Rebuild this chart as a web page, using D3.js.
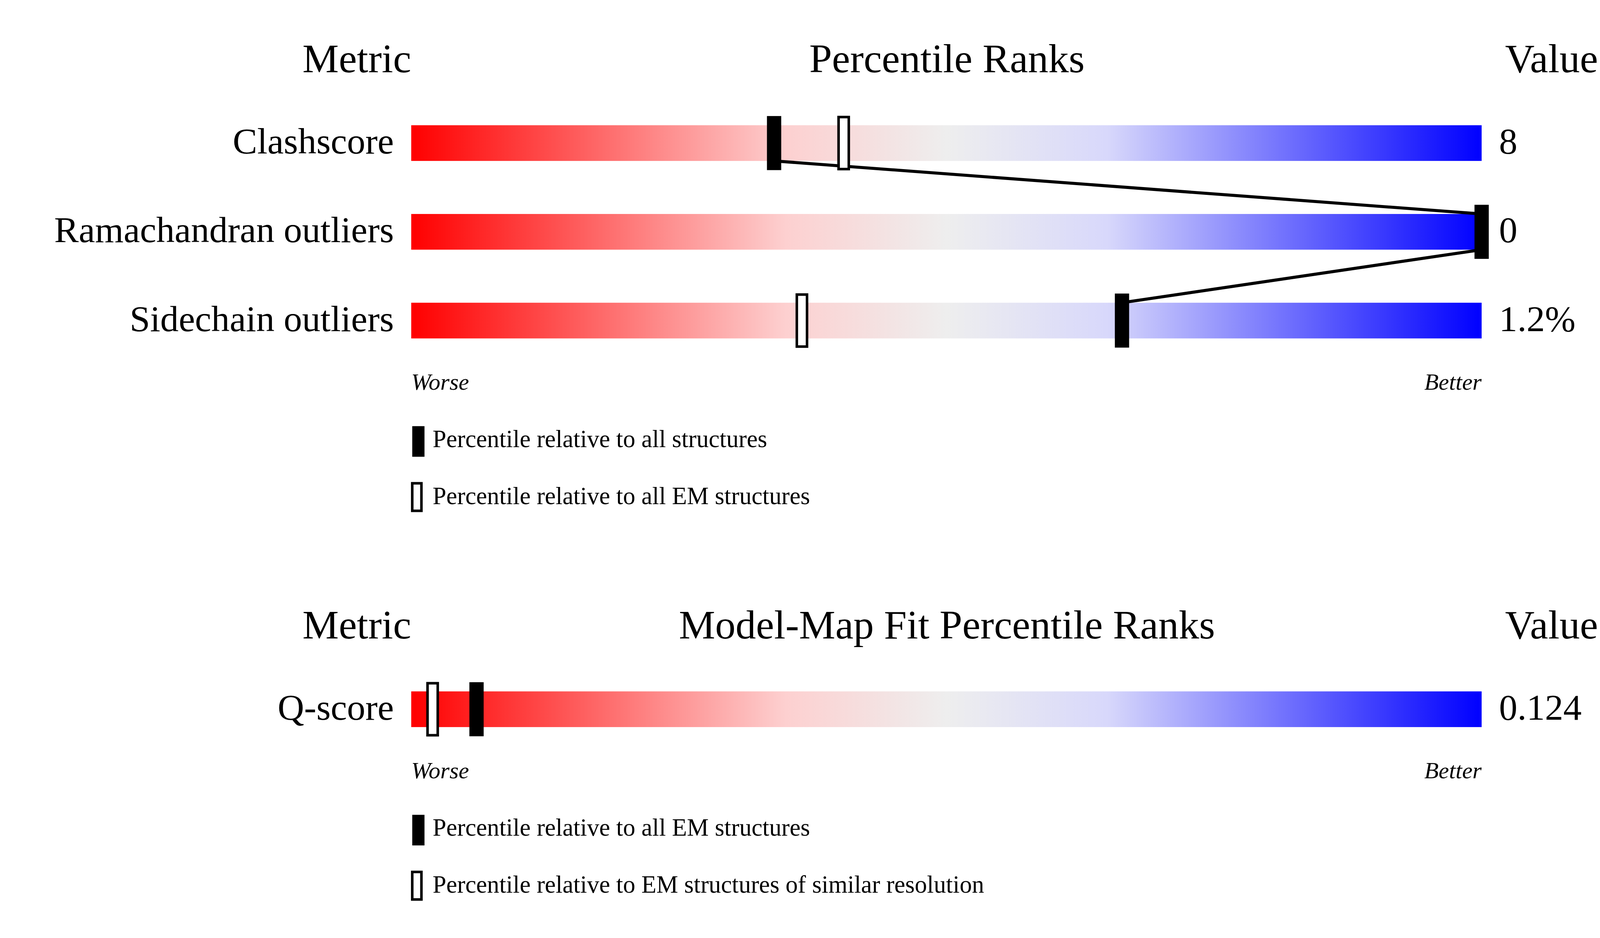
<!DOCTYPE html>
<html><head><meta charset="utf-8">
<script src="https://cdn.jsdelivr.net/npm/d3@7"></script>
<style>html,body{margin:0;padding:0;background:#fff;overflow:hidden}svg{display:block;width:100vw;height:100vh}</style>
</head><body>
<script>
const metrics1 = ["Clashscore","Ramachandran outliers","Sidechain outliers"];
const values1 = ["8","0","1.2%"];
const pctAll1 = [33.9, 100, 66.4];
const pctEM1 = [40.4, null, 36.5];
const metrics2 = ["Q-score"];
const values2 = ["0.124"];
const pctAll2 = [6.1];
const pctEM2 = [2.0];
const legend1 = ["Percentile relative to all structures","Percentile relative to all EM structures"];
const legend2 = ["Percentile relative to all EM structures","Percentile relative to EM structures of similar resolution"];

const svg=d3.select("body").append("svg")
  .attr("viewBox","0 0 1568 840").attr("preserveAspectRatio","xMidYMid meet");
const font="Liberation Serif, Times New Roman, serif";
const defs=svg.append("defs");
const g=defs.append("linearGradient").attr("id","grad");
[[0,"#ff0000"],[0.35,"#fdd0d0"],[0.5,"#eeeeee"],[0.65,"#d8d8fb"],[1,"#0000ff"]]
  .forEach(([o,c])=>g.append("stop").attr("offset",o).attr("stop-color",c));
const x=d3.scaleLinear().domain([0,100]).range([403,1452]);

function panel(top,title,metrics,values,pAll,pEM,legend){
  const bh=35;
  const rowY=i=>top+63+87*i;
  const t=(txt,xx,yy,anchor,size,style)=>svg.append("text").text(txt).attr("x",xx).attr("y",yy)
    .attr("text-anchor",anchor).attr("font-family",font).attr("font-size",size)
    .attr("font-style",style||"normal").attr("dominant-baseline","middle");
  t("Metric",403,top+2,"end",40);
  t(title,928,top+2,"middle",40);
  t("Value",1566,top+2,"end",40);
  metrics.forEach((m,i)=>{
    const yy=rowY(i);
    svg.append("rect").attr("x",x(0)).attr("y",yy).attr("width",x(100)-x(0)).attr("height",bh).attr("fill","url(#grad)");
    t(m,386,yy+bh/2+2,"end",36);
    t(values[i],1469,yy+bh/2+2,"start",36);
  });
  for(let i=0;i<pAll.length-1;i++){
    const a=Math.min(x(pAll[i]),1453), b=Math.min(x(pAll[i+1]),1453);
    svg.append("line").attr("x1",a).attr("y1",rowY(i)+bh).attr("x2",b).attr("y2",rowY(i+1))
      .attr("stroke","#000").attr("stroke-width",3);
  }
  pEM.forEach((p,i)=>{ if(p==null)return;
    svg.append("rect").attr("x",x(p)-5).attr("y",rowY(i)-8).attr("width",10).attr("height",bh+16)
      .attr("fill","#fff").attr("stroke","#000").attr("stroke-width",2.5);
  });
  pAll.forEach((p,i)=>{
    const cx=Math.min(x(p),1453);
    svg.append("rect").attr("x",cx-7).attr("y",rowY(i)-9).attr("width",14).attr("height",bh+18).attr("fill","#000");
  });
  const by=rowY(metrics.length-1)+bh;
  t("Worse",403,by+45,"start",23,"italic");
  t("Better",1452,by+45,"end",23,"italic");
  legend.forEach((l,i)=>{
    const ly=by+100+56*i;
    svg.append("rect").attr("x",404).attr("y",ly-14).attr("width",i?9:12).attr("height",i?27:30)
      .attr("fill",i?"#fff":"#000").attr("stroke","#000").attr("stroke-width",i?2.5:0);
    t(l,424,ly+1,"start",24);
  });
}
panel(20,"Percentile Ranks",metrics1,values1,pctAll1,pctEM1,legend1);
panel(575,"Model-Map Fit Percentile Ranks",metrics2,values2,pctAll2,pctEM2,legend2);
</script>
</body></html>
